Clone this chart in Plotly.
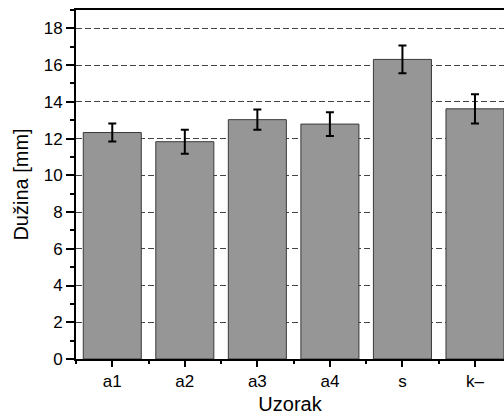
import plotly.graph_objects as go

categories = ["a1", "a2", "a3", "a4", "s", "k\u2013"]
values = [12.33, 11.83, 13.03, 12.79, 16.31, 13.62]
errors = [0.49, 0.65, 0.55, 0.65, 0.76, 0.80]
y_ticks = [0, 2, 4, 6, 8, 10, 12, 14, 16, 18]

xpos = list(range(len(categories)))

fig = go.Figure()
fig.add_trace(go.Bar(
    x=xpos, y=values, width=0.8,
    marker=dict(color="#969696", line=dict(color="#3a3a3a", width=1)),
    error_y=dict(type="data", array=errors, visible=True,
                 color="black", thickness=2, width=4),
    showlegend=False,
))

font = "Liberation Sans, Arial, sans-serif"
fig.update_layout(
    width=504, height=415,
    margin=dict(l=76, r=0, t=10, b=56, autoexpand=False),
    paper_bgcolor="white", plot_bgcolor="white",
    font=dict(family=font, size=17, color="black"),
    bargap=0.2,
)
fig.update_xaxes(
    range=[-0.5, 5.4], automargin=False,
    tickmode="array", tickvals=xpos, ticktext=categories,
    showgrid=False, zeroline=False,
    showline=True, linecolor="black", linewidth=2, mirror=True,
    ticks="outside", ticklen=6, tickwidth=2, tickcolor="black",
    minor=dict(tick0=-0.5, dtick=1, ticks="outside", ticklen=3,
               tickwidth=2, tickcolor="black", showgrid=False),
    tickfont=dict(size=17),
    title=dict(text="Uzorak", font=dict(size=20), standoff=7),
)
fig.update_yaxes(
    range=[0, 19], automargin=False,
    tickmode="array", tickvals=y_ticks,
    showgrid=True, gridcolor="#444444", gridwidth=1, griddash="6px,3px",
    zeroline=False,
    showline=True, linecolor="black", linewidth=2,
    ticks="outside", ticklen=8, tickwidth=2, tickcolor="black",
    minor=dict(tick0=1, dtick=2, ticks="outside", ticklen=4,
               tickwidth=2, tickcolor="black", showgrid=False),
    tickfont=dict(size=17),
    title=dict(text="Du\u017eina [mm]", font=dict(size=20), standoff=10),
)
fig.write_html(
    "out.html",
    config={"displayModeBar": False},
    post_script="document.body.style.margin='0';document.body.style.overflow='hidden';",
)
